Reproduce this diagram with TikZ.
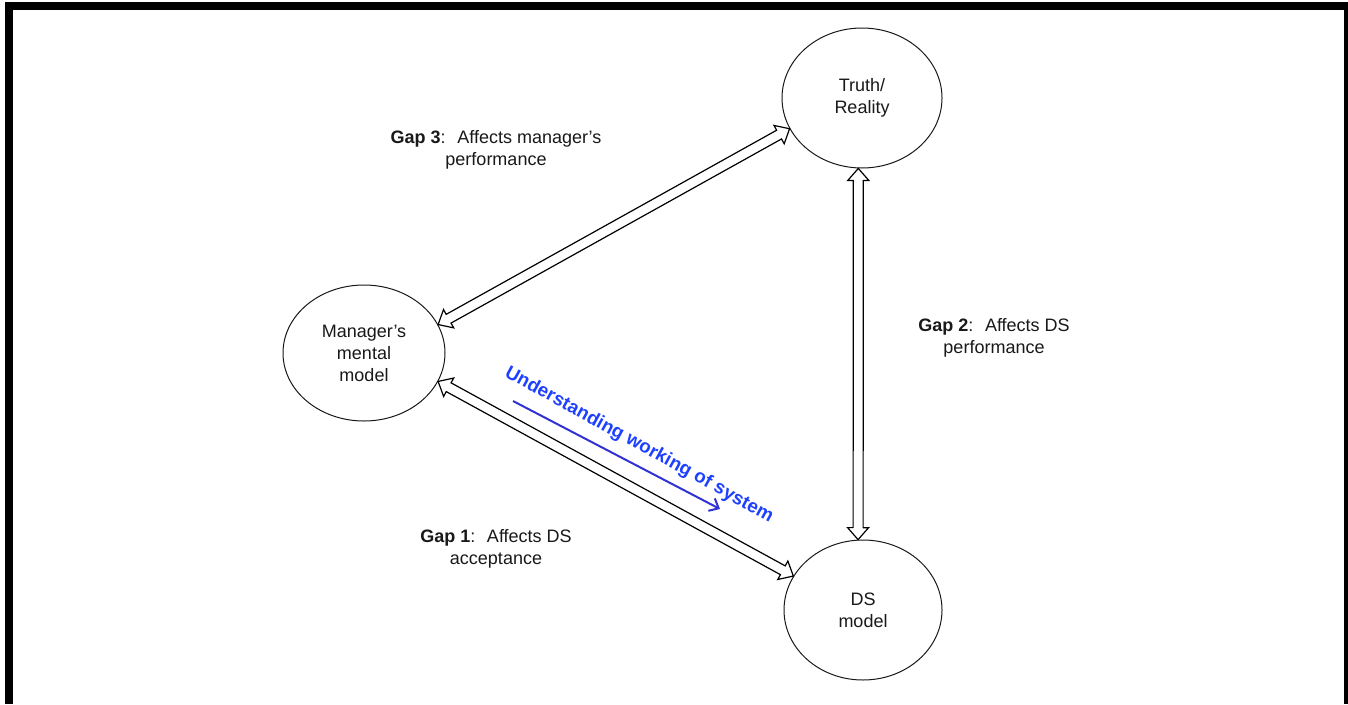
\documentclass[tikz,border=0pt]{standalone}
\usepackage{fontspec}
\setmainfont{Liberation Sans}
\usetikzlibrary{calc,shapes.geometric,arrows.meta}
\definecolor{bluetext}{RGB}{30,64,255}
\definecolor{bluearrow}{RGB}{50,50,210}
\definecolor{ink}{RGB}{25,25,25}
\tikzset{
  ell/.style={ellipse,draw=ink,line width=1pt,inner sep=0pt,align=center,text=ink,font=\fontsize{18}{22}\selectfont},
  lbl/.style={align=center,text=ink,inner sep=0pt,font=\fontsize{18}{22}\selectfont},
  garrowline/.style={draw=black,fill=white,line width=1.2pt,line join=miter},
  bluelbl/.style={text=bluetext,inner sep=0pt,font=\fontsize{18.8}{22}\selectfont\bfseries},
  bluearr/.style={draw=bluearrow,line width=2pt,-{Straight Barb[length=8pt,width=14pt,line width=2pt]}}
}
% hollow double-headed arrow between two named coordinates
\newcommand\garrow[2]{%
  \coordinate (#1h) at ($(#1)!12pt!(#2)$);
  \coordinate (#2h) at ($(#2)!12pt!(#1)$);
  \draw[garrowline] (#1) -- ($(#1h)!10.5pt!90:(#2)$) -- ($(#1h)!5pt!90:(#2)$)
    -- ($(#2h)!5pt!-90:(#1)$) -- ($(#2h)!10.5pt!-90:(#1)$) -- (#2)
    -- ($(#2h)!10.5pt!90:(#1)$) -- ($(#2h)!5pt!90:(#1)$)
    -- ($(#1h)!5pt!-90:(#2)$) -- ($(#1h)!10.5pt!-90:(#2)$) -- cycle;}
\begin{document}
\begin{tikzpicture}[x=1pt,y=-1pt]
\useasboundingbox (0,0) rectangle (1348,704);
\fill[white] (0,0) rectangle (1348,704);
% frame
\fill[black] (5,2) rectangle (1348,10);
\fill[black] (5,2) rectangle (13,704);
\fill[black] (1344,2) rectangle (1348,704);
% nodes
\node[ell,minimum width=160pt,minimum height=140pt] (truth) at (862,98) {Truth/\\Reality};
\node[ell,minimum width=162pt,minimum height=136pt] (man) at (364,353) {Manager’s\\mental\\model};
\node[ell,minimum width=158pt,minimum height=140pt] (ds) at (863,610) {DS\\model};
% tips
\coordinate (m1) at (man.21);
\coordinate (t1) at (truth.203.5);
\coordinate (m2) at (man.-21);
\coordinate (d2) at (ds.154.8);
\coordinate (t3) at (truth.267);
\coordinate (d3) at (ds.94);
\garrow{m1}{t1}
\garrow{m2}{d2}
\garrow{t3}{d3}
% labels
\node[lbl] (g3) at (496,150) {\textbf{Gap 3}:~ Affects manager’s\\performance};
\node[lbl] (g2) at (994,338) {\textbf{Gap 2}:~ Affects DS\\performance};
\node[lbl] (g1) at (496,549) {\textbf{Gap 1}:~ Affects DS\\acceptance};
% blue annotation
\node[bluelbl,rotate=-28.8] (uw) at (639,445) {Understanding working of system};
\coordinate (ba) at (513,401);
\coordinate (bb) at (720,509);
\draw[bluearr] (ba) -- (bb);
\end{tikzpicture}
\end{document}
